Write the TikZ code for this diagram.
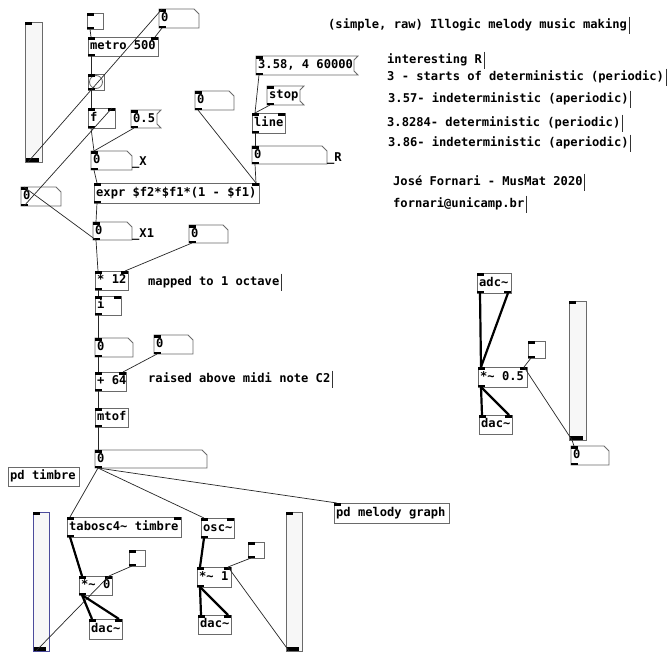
\documentclass[tikz,border=0pt]{standalone}
\usepackage{fontspec}
\newfontfamily\pdmono{DejaVu Sans Mono}
\definecolor{boxgray}{HTML}{6A6A6A}
\definecolor{slidefill}{HTML}{F7F7F7}
\definecolor{slideblue}{HTML}{4B4B9B}
\tikzset{
 pdtext/.style={anchor=west, inner sep=0pt, font={\fontsize{12.1pt}{14pt}\pdmono\bfseries}, text height=8.8pt, text depth=2.4pt},
 boxnode/.style={anchor=north west, inner sep=0pt, outer sep=0pt},
 boxline/.style={draw=boxgray, line width=0.8pt},
 iolet/.style={fill=black},
 conn/.style={draw=black!85, line width=0.7pt},
 sig/.style={draw=black, line width=2.2pt},
 cursorbar/.style={draw=black!80, line width=0.7pt},
}
\newcommand\pdinL[1]{\fill[iolet] (#1.north west) rectangle ([xshift=7pt,yshift=-2.5pt]#1.north west);}
\newcommand\pdinR[1]{\fill[iolet] (#1.north east) rectangle ([xshift=-7pt,yshift=-2.5pt]#1.north east);}
\newcommand\pdoutL[1]{\fill[iolet] (#1.south west) rectangle ([xshift=7pt,yshift=2.5pt]#1.south west);}
\newcommand\pdoutR[1]{\fill[iolet] (#1.south east) rectangle ([xshift=-7pt,yshift=2.5pt]#1.south east);}
\newcommand\pdobj[6]{\node[boxnode, boxline, minimum width=#4pt, minimum height=#5pt] (#1) at (#2,#3) {};
 \node[pdtext] (#1-t) at ([xshift=2pt]#1.west) {#6};}
\newcommand\pdnum[6]{\node[boxnode, minimum width=#4pt, minimum height=#5pt] (#1) at (#2,#3) {};
 \draw[boxline] (#1.north west) -- ([xshift=-5pt]#1.north east) -- ([yshift=-5pt]#1.north east) -- (#1.south east) -- (#1.south west) -- cycle;
 \node[pdtext] (#1-t) at ([xshift=2pt]#1.west) {#6};
 \pdinL{#1}\pdoutL{#1}}
\newcommand\pdmsg[6]{\node[boxnode, minimum width=#4pt, minimum height=#5pt] (#1) at (#2,#3) {};
 \draw[boxline] (#1.north west) -- ([xshift=4pt]#1.north east) -- ([yshift=-4pt]#1.north east) -- ([yshift=4pt]#1.south east) -- ([xshift=4pt]#1.south east) -- (#1.south west) -- cycle;
 \node[pdtext] (#1-t) at ([xshift=2pt]#1.west) {#6};
 \pdinL{#1}\pdoutL{#1}}
\newcommand\pdtgl[4]{\node[boxnode, boxline, minimum width=#4pt, minimum height=#4pt] (#1) at (#2,#3) {};
 \pdinL{#1}\pdoutL{#1}}
\newcommand\pdbng[4]{\node[boxnode, boxline, minimum width=#4pt, minimum height=#4pt] (#1) at (#2,#3) {};
 \draw[boxline] (#1.center) circle (6.5pt);
 \pdinL{#1}\pdoutL{#1}}
\newcommand\pdslider[6]{\node[boxnode, draw=#6, line width=0.8pt, fill=slidefill, minimum width=#4pt, minimum height=#5pt] (#1) at (#2,#3) {};
 \pdinL{#1}
 \fill[black] ([xshift=0.5pt,yshift=0.5pt]#1.south west) rectangle ([xshift=-3pt,yshift=4.5pt]#1.south east);}
\newcommand\pdcom[4]{\node[pdtext] (#1) at (#2,#3) {#4};
 \draw[cursorbar] ([xshift=2pt,yshift=8.5pt]#1.east) -- ([xshift=2pt,yshift=-8.5pt]#1.east);}
\newcommand\tl{\textasciitilde}
\begin{document}
\begin{tikzpicture}[x=1pt,y=-1pt]
\fill[white] (0,0) rectangle (670,653);
\useasboundingbox (0,0) rectangle (670,653);

% ---------- top part
\pdslider{sl1}{25}{22}{17}{140}{boxgray}
\pdtgl{tg1}{87}{13}{16}
\pdnum{ntop}{159}{9}{40}{19}{0}
\pdobj{metro}{88}{37}{70}{19}{metro 500}\pdinL{metro}\pdinR{metro}\pdoutL{metro}
\pdbng{bng}{88}{74}{16}
\pdobj{f}{88}{108}{27}{20}{f}\pdinL{f}\pdinR{f}\pdoutL{f}
\pdmsg{m05}{131}{110}{26}{18}{0.5}
\pdnum{nX}{91}{151}{41}{19}{0}
\node[pdtext, anchor=base west] (nX-l) at (132,165) {\_X};
\pdobj{expr}{94}{183}{165}{20}{expr \$f2*\$f1*(1 - \$f1)}\pdinL{expr}\pdinR{expr}\pdoutL{expr}
\pdnum{nmid}{195}{91}{39}{19}{0}
\pdmsg{m358}{256}{56}{98}{19}{3.58, 4 60000}
\pdmsg{mstop}{267}{86}{33}{19}{stop}
\pdobj{line}{252}{113}{33}{20}{line}\pdinL{line}\pdinR{line}\pdoutL{line}
\pdnum{nR}{252}{146}{75}{18}{0}
\node[pdtext, anchor=base west] (nR-l) at (327,161) {\_R};
\pdnum{nL}{21}{187}{40}{19}{0}
\pdnum{nX1}{93}{222}{39}{18}{0}
\node[pdtext, anchor=base west] (nX1-l) at (132,237) {\_X1};
\pdnum{nr1}{189}{225}{39}{18}{0}
\pdobj{m12}{95}{271}{33}{19}{* 12}\pdinL{m12}\pdinR{m12}\pdoutL{m12}
\pdcom{cmap}{148}{282}{mapped to 1 octave}
\pdobj{iobj}{95}{296}{26}{19}{i}\pdinL{iobj}\pdinR{iobj}\pdoutL{iobj}
\pdnum{na}{95}{338}{38}{19}{0}
\pdnum{nb}{154}{335}{39}{19}{0}
\pdobj{add}{95}{372}{31}{19}{+ 64}\pdinL{add}\pdinR{add}\pdoutL{add}
\pdcom{craise}{148}{379}{raised above midi note C2}
\pdobj{mtof}{95}{408}{33}{19}{mtof}\pdinL{mtof}\pdoutL{mtof}
\pdnum{nw}{95}{450}{112}{18}{0}

% ---------- bottom part
\pdobj{pdt}{8}{467}{71}{19}{pd timbre}
\pdobj{pdm}{334}{503}{115}{20}{pd melody graph}\pdinL{pdm}
\pdslider{sl2}{33}{512}{16}{139}{slideblue}
\pdobj{tab}{67}{517}{114}{20}{tabosc4\tl{} timbre}\pdinL{tab}\pdinR{tab}\pdoutL{tab}
\pdtgl{tg2}{129}{550}{16}
\pdobj{mul0}{79}{576}{33}{19}{*\tl{} 0}\pdinL{mul0}\pdinR{mul0}\pdoutL{mul0}
\pdobj{dac1}{89}{619}{33}{20}{dac\tl}\pdinL{dac1}\pdinR{dac1}
\pdobj{osc}{201}{518}{33}{20}{osc\tl}\pdinL{osc}\pdinR{osc}\pdoutL{osc}
\pdtgl{tg3}{248}{542}{16}
\pdobj{mul1}{197}{567}{34}{20}{*\tl{} 1}\pdinL{mul1}\pdinR{mul1}\pdoutL{mul1}
\pdobj{dac2}{198}{615}{33}{19}{dac\tl}\pdinL{dac2}\pdinR{dac2}
\pdslider{sl3}{286}{512}{16}{139}{boxgray}

% ---------- right part
\pdobj{adc}{477}{273}{34}{20}{adc\tl}\pdinL{adc}\pdoutL{adc}\pdoutR{adc}
\pdtgl{tg4}{528}{341}{17}
\pdobj{mul05}{478}{367}{49}{20}{*\tl{} 0.5}\pdinL{mul05}\pdinR{mul05}\pdoutL{mul05}
\pdobj{dac3}{479}{415}{33}{19}{dac\tl}\pdinL{dac3}\pdinR{dac3}
\pdslider{sl4}{569}{301}{17}{139}{boxgray}
\pdnum{ns}{571}{446}{38}{19}{0}

% ---------- comments
\pdcom{ctitle}{328}{25}{(simple, raw) Illogic melody music making}
\pdcom{cint}{387}{60}{interesting R}
\pdcom{c3}{387}{77}{3 - starts of deterministic (periodic)}
\pdcom{c357}{388}{99}{3.57- indeterministic (aperiodic)}
\pdcom{c382}{387}{123}{3.8284- deterministic (periodic)}
\pdcom{c386}{388}{143}{3.86- indeterministic (aperiodic)}
\pdcom{cjose}{393}{182}{José Fornari - MusMat 2020}
\pdcom{cmail}{393}{204}{fornari@unicamp.br}

% ---------- control connections
\draw[conn] ([xshift=3pt]tg1.south west) -- ([xshift=3pt]metro.north west);
\draw[conn] ([xshift=3pt]ntop.south west) -- ([xshift=-3pt]metro.north east);
\draw[conn] ([xshift=3pt]metro.south west) -- ([xshift=3pt]bng.north west);
\draw[conn] ([xshift=3pt]bng.south west) -- ([xshift=3pt]f.north west);
\draw[conn] ([xshift=3pt]sl1.south west) -- ([xshift=3pt]ntop.north west);
\draw[conn] ([xshift=3pt]f.south west) -- ([xshift=3pt]nX.north west);
\draw[conn] ([xshift=3pt]m05.south west) -- ([xshift=3pt]nX.north west);
\draw[conn] ([xshift=3pt]nX.south west) -- ([xshift=3pt]expr.north west);
\draw[conn] ([xshift=3pt]nL.south west) -- ([xshift=-3pt]f.north east);
\draw[conn] ([xshift=3pt]nX1.south west) -- ([xshift=3pt]nL.north west);
\draw[conn] ([xshift=3pt]expr.south west) -- ([xshift=3pt]nX1.north west);
\draw[conn] ([xshift=3pt]m358.south west) -- ([xshift=3pt]line.north west);
\draw[conn] ([xshift=3pt]mstop.south west) -- ([xshift=3pt]line.north west);
\draw[conn] ([xshift=3pt]line.south west) -- ([xshift=3pt]nR.north west);
\draw[conn] ([xshift=3pt]nR.south west) -- ([xshift=-3pt]expr.north east);
\draw[conn] ([xshift=3pt]nmid.south west) -- ([xshift=-3pt]expr.north east);
\draw[conn] ([xshift=3pt]nX1.south west) -- ([xshift=3pt]m12.north west);
\draw[conn] ([xshift=3pt]nr1.south west) -- ([xshift=-3pt]m12.north east);
\draw[conn] ([xshift=3pt]m12.south west) -- ([xshift=3pt]iobj.north west);
\draw[conn] ([xshift=3pt]iobj.south west) -- ([xshift=3pt]na.north west);
\draw[conn] ([xshift=3pt]na.south west) -- ([xshift=3pt]add.north west);
\draw[conn] ([xshift=3pt]nb.south west) -- ([xshift=-3pt]add.north east);
\draw[conn] ([xshift=3pt]add.south west) -- ([xshift=3pt]mtof.north west);
\draw[conn] ([xshift=3pt]mtof.south west) -- ([xshift=3pt]nw.north west);
\draw[conn] ([xshift=3pt]nw.south west) -- ([xshift=3pt]tab.north west);
\draw[conn] ([xshift=3pt]nw.south west) -- ([xshift=3pt]osc.north west);
\draw[conn] ([xshift=3pt]nw.south west) -- ([xshift=3pt]pdm.north west);
\draw[conn] ([xshift=3pt]tg2.south west) -- ([xshift=-3pt]mul0.north east);
\draw[conn] ([xshift=3pt]sl2.south west) -- ([xshift=-3pt]mul0.north east);
\draw[conn] ([xshift=3pt]tg3.south west) -- ([xshift=-3pt]mul1.north east);
\draw[conn] ([xshift=3pt]sl3.south west) -- ([xshift=-3pt]mul1.north east);
\draw[conn] ([xshift=3pt]tg4.south west) -- ([xshift=-3pt]mul05.north east);
\draw[conn] ([xshift=3pt]sl4.south west) -- ([xshift=-3pt]mul05.north east);
\draw[conn] ([xshift=3pt]sl4.south west) -- ([xshift=3pt]ns.north west);

% ---------- signal connections
\draw[sig] ([xshift=3pt]tab.south west) -- ([xshift=3pt]mul0.north west);
\draw[sig] ([xshift=3pt]mul0.south west) -- ([xshift=3pt]dac1.north west);
\draw[sig] ([xshift=3pt]mul0.south west) -- ([xshift=-3pt]dac1.north east);
\draw[sig] ([xshift=3pt]osc.south west) -- ([xshift=3pt]mul1.north west);
\draw[sig] ([xshift=3pt]mul1.south west) -- ([xshift=3pt]dac2.north west);
\draw[sig] ([xshift=3pt]mul1.south west) -- ([xshift=-3pt]dac2.north east);
\draw[sig] ([xshift=3pt]adc.south west) -- ([xshift=3pt]mul05.north west);
\draw[sig] ([xshift=-3pt]adc.south east) -- ([xshift=3pt]mul05.north west);
\draw[sig] ([xshift=3pt]mul05.south west) -- ([xshift=3pt]dac3.north west);
\draw[sig] ([xshift=3pt]mul05.south west) -- ([xshift=-3pt]dac3.north east);
\end{tikzpicture}
\end{document}
